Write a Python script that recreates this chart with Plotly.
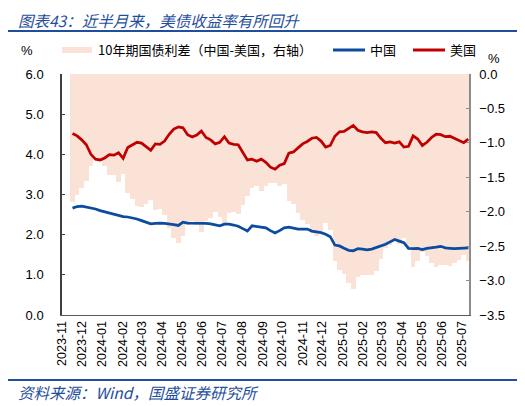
import plotly.graph_objects as go
import pandas as pd

# weekly samples, 2023-11-17 .. 2025-07-11
dates = pd.date_range('2023-11-17', periods=87, freq='7D')

us_10y = [4.52, 4.46, 4.36, 4.24, 4.00, 3.88, 3.86, 3.91, 3.99, 3.98,
          4.04, 3.90, 4.17, 4.24, 4.30, 4.28, 4.19, 4.10, 4.26, 4.25,
          4.33, 4.50, 4.63, 4.68, 4.66, 4.49, 4.43, 4.48, 4.58, 4.42,
          4.36, 4.26, 4.30, 4.44, 4.28, 4.25, 4.24, 4.05, 3.86, 3.88,
          3.83, 3.88, 3.80, 3.68, 3.63, 3.73, 3.77, 4.03, 4.06, 4.16,
          4.26, 4.32, 4.40, 4.42, 4.33, 4.18, 4.22, 4.45, 4.56, 4.57,
          4.65, 4.72, 4.60, 4.56, 4.54, 4.56, 4.54, 4.40, 4.29, 4.31,
          4.28, 4.31, 4.18, 4.20, 4.46, 4.38, 4.22, 4.30, 4.42, 4.50,
          4.49, 4.44, 4.45, 4.40, 4.36, 4.29, 4.38]

cn_10y = [2.66, 2.70, 2.71, 2.69, 2.66, 2.64, 2.60, 2.57, 2.53, 2.51,
          2.47, 2.45, 2.44, 2.42, 2.39, 2.35, 2.30, 2.27, 2.28, 2.29,
          2.28, 2.27, 2.25, 2.23, 2.31, 2.29, 2.29, 2.29, 2.28, 2.28,
          2.27, 2.25, 2.22, 2.26, 2.26, 2.24, 2.21, 2.15, 2.09, 2.22,
          2.20, 2.18, 2.17, 2.10, 2.04, 2.10, 2.17, 2.19, 2.17, 2.14,
          2.14, 2.14, 2.09, 2.07, 2.05, 2.01, 1.95, 1.74, 1.72, 1.66,
          1.61, 1.60, 1.65, 1.64, 1.62, 1.64, 1.68, 1.72, 1.76, 1.82,
          1.88, 1.84, 1.80, 1.66, 1.65, 1.66, 1.63, 1.66, 1.67, 1.69,
          1.71, 1.67, 1.66, 1.65, 1.66, 1.66, 1.67]

# China minus US, right axis
spread = [-1.86, -1.76, -1.65, -1.55, -1.34, -1.24, -1.26, -1.34, -1.46, -1.47,
          -1.57, -1.45, -1.73, -1.82, -1.91, -1.93, -1.89, -1.83, -1.98, -1.96,
          -2.05, -2.23, -2.38, -2.45, -2.35, -2.20, -2.14, -2.19, -2.30, -2.14,
          -2.09, -2.01, -2.08, -2.18, -2.02, -2.01, -2.03, -1.90, -1.77, -1.66,
          -1.63, -1.70, -1.63, -1.58, -1.59, -1.63, -1.60, -1.84, -1.89, -2.02,
          -2.12, -2.18, -2.31, -2.35, -2.28, -2.17, -2.27, -2.71, -2.84, -2.91,
          -3.04, -3.12, -2.95, -2.92, -2.92, -2.92, -2.86, -2.68, -2.53, -2.49,
          -2.40, -2.47, -2.38, -2.54, -2.81, -2.72, -2.59, -2.64, -2.75, -2.81,
          -2.78, -2.77, -2.79, -2.75, -2.70, -2.63, -2.71]

month_ticks = pd.date_range('2023-11-01', '2025-07-01', freq='MS')

FILL = '#FAE3D6'
BLUE = '#0B4BA0'
RED = '#C00000'
TITLE_BLUE = '#1F4E9C'
CJK = 'Noto Sans CJK SC'
LAT = 'Liberation Sans'

fig = go.Figure()

fig.add_trace(go.Bar(
    x=dates, y=spread, yaxis='y',
    width=7 * 86400000,
    marker=dict(color=FILL, line=dict(width=0)),
    name='10年期国债利差（中国-美国，右轴）'
))
fig.add_trace(go.Scatter(
    x=dates, y=cn_10y, yaxis='y2', mode='lines',
    line=dict(color=BLUE, width=2.75), name='中国'
))
fig.add_trace(go.Scatter(
    x=dates, y=us_10y, yaxis='y2', mode='lines',
    line=dict(color=RED, width=2.75), name='美国'
))

# page has an 8px body margin, so the figure is 8px smaller than the window
fig.update_layout(
    width=517, height=398,
    margin=dict(l=54, r=56, t=66, b=91),
    paper_bgcolor='white', plot_bgcolor='white',
    showlegend=False,
    bargap=0,
    font=dict(family=LAT, size=13, color='#000000'),
    xaxis=dict(
        type='date',
        range=['2023-11-01', '2025-07-12'],
        tickvals=month_ticks, tickformat='%Y-%m',
        tickangle=-90, tickfont=dict(size=12.5),
        showline=True, linecolor='#595959', linewidth=1,
        showgrid=False, ticks=''
    ),
    yaxis=dict(
        side='right', range=[-3.5, 0], dtick=0.5, tickformat='.1f',
        ticks='inside', ticklen=3, tickcolor='#8c8c8c',
        showline=True, linecolor='#8c8c8c', linewidth=1.5,
        showgrid=False, zeroline=False, ticklabelstandoff=6
    ),
    yaxis2=dict(
        side='left', overlaying='y', range=[0, 6], dtick=1, tickformat='.1f',
        ticks='inside', ticklen=3, tickcolor='#404040',
        showline=True, linecolor='#404040', linewidth=1.5,
        showgrid=False, zeroline=False, ticklabelstandoff=14
    ),
)


# helpers: page pixel -> paper coords (plot area spans x 62..469, y 74..315 on the page)
def px_x(x):
    return (x - 62) / 407


def px_y(y):
    return (315 - y) / 241


# header / footer rules
for yy in (31, 380):
    fig.add_shape(type='line', xref='paper', yref='paper',
                  x0=px_x(8), x1=px_x(519), y0=px_y(yy), y1=px_y(yy),
                  line=dict(color=TITLE_BLUE, width=2))

# custom legend
fig.add_shape(type='rect', xref='paper', yref='paper',
              x0=px_x(62), x1=px_x(92), y0=px_y(53), y1=px_y(47),
              fillcolor=FILL, line=dict(width=0))
fig.add_shape(type='line', xref='paper', yref='paper',
              x0=px_x(333), x1=px_x(365), y0=px_y(50), y1=px_y(50),
              line=dict(color=BLUE, width=3))
fig.add_shape(type='line', xref='paper', yref='paper',
              x0=px_x(413), x1=px_x(445), y0=px_y(50), y1=px_y(50),
              line=dict(color=RED, width=3))

# title sits flush with the top of the figure
fig.add_annotation(
    text='图表43：近半月来，美债收益率有所回升', xref='paper', yref='paper',
    x=px_x(17), y=px_y(8), xanchor='left', yanchor='top',
    showarrow=False, borderpad=0,
    font=dict(family=CJK, size=15.5, color=TITLE_BLUE, style='italic')
)

texts = [
    ('10年期国债利差（中国-美国，右轴）', 97, 50, 13, '#000000', 'left'),
    ('中国', 369, 50, 13, '#000000', 'left'),
    ('美国', 449, 50, 13, '#000000', 'left'),
    ('资料来源：Wind，国盛证券研究所', 17, 392, 15.5, TITLE_BLUE, 'left'),
]
for txt, x, y, size, color, anchor in texts:
    fig.add_annotation(
        text=txt, xref='paper', yref='paper', x=px_x(x), y=px_y(y),
        xanchor=anchor, yanchor='middle', showarrow=False, borderpad=0,
        font=dict(family=CJK, size=size, color=color,
                  style='italic' if color == TITLE_BLUE else 'normal')
    )

# unit labels
fig.add_annotation(text='%', xref='paper', yref='paper', x=px_x(27), y=px_y(51),
                   xanchor='center', yanchor='middle', showarrow=False,
                   font=dict(family=LAT, size=13))
fig.add_annotation(text='%', xref='paper', yref='paper', x=px_x(494), y=px_y(58),
                   xanchor='center', yanchor='middle', showarrow=False,
                   font=dict(family=LAT, size=13))

fig.write_html("out.html")
